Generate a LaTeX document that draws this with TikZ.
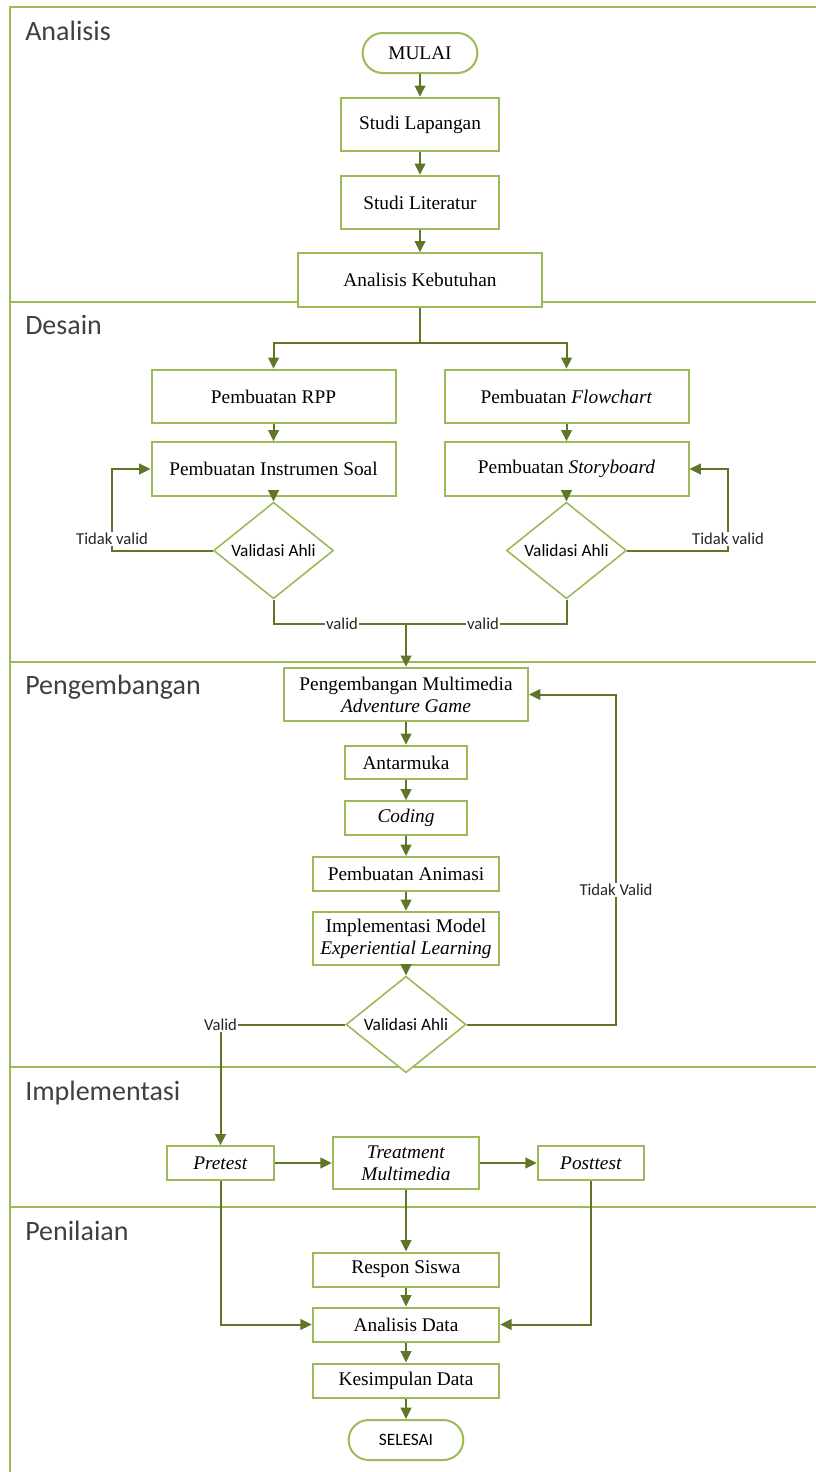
\documentclass[tikz,border=0pt]{standalone}
\usepackage{fontspec}
\setmainfont{Liberation Serif}
\newfontfamily\lanefont{Carlito}
\usetikzlibrary{
	positioning
	,shapes.geometric
	,arrows.meta
}
\definecolor{boxgreen}{RGB}{155,187,89}
\definecolor{flowgreen}{RGB}{95,117,40}
\definecolor{lanetext}{RGB}{64,64,64}
\newcommand{\flow}[3][]{
	\draw[flow line,#1] (#2) -- (#3);
}
\tikzset{
	box/.style={
		draw=boxgreen
		,line width=1.5pt
		,fill=white
		,rectangle
		,inner sep=1pt
		,align=center
		,font=\fontsize{14.5}{16.5}\selectfont
	},
	terminal/.style={
		box
		,rounded corners=15pt
		,minimum width=86pt
		,minimum height=30pt
	},
	check/.style={
		box
		,diamond
		,line width=1.2pt
		,minimum width=90pt
		,minimum height=54pt
		,inner sep=0pt
		,font=\lanefont\fontsize{13}{15}\selectfont
	},
	tag/.style={
		fill=white
		,inner sep=1pt
		,font=\lanefont\fontsize{12.5}{14}\selectfont
		,text=black!85
	},
	lane/.style={
		anchor=base west
		,inner sep=0pt
		,font=\lanefont\fontsize{21}{24}\selectfont
		,text=lanetext
	},
	flow line/.style={
		draw=flowgreen
		,line width=1.5pt
		,-{Triangle[length=8.5pt,width=8pt]}
	},
	plain line/.style={
		draw=flowgreen
		,line width=1.5pt
	},
	wide box/.style={minimum width=183pt, minimum height=40pt},
	mid box/.style={minimum width=118pt, minimum height=40pt},
	slim box/.style={minimum width=140pt, minimum height=25.5pt},
	short box/.style={minimum width=91.5pt, minimum height=25pt},
	test box/.style={minimum width=80pt, minimum height=25pt}
}

\begin{document}
\begin{tikzpicture}[x=0.75pt,y=-0.75pt]
	\useasboundingbox (0,0) rectangle (816,1472);
	
	\draw[boxgreen, line width=2pt] (816,7) -- (10,7) -- (10,1472);
	\foreach \y in {302,662,1067,1207}{
		\draw[boxgreen, line width=2pt] (10,\y) -- (816,\y);
	}
	\foreach \y/\t in {40/Analisis,334/Desain,694/Pengembangan,1100/Implementasi,1240/Penilaian}{
		\node[lane] (lane-\t) at (25,\y) {\t};
	}
	
	\node[terminal] (mulai) at (420,53) {MULAI};
	\node[box, mid box] (lapangan) at (420,124.5) {Studi Lapangan};
	\node[box, mid box] (literatur) at (420,202.5) {Studi Literatur};
	\node[box, wide box] (kebutuhan) at (420,280) {Analisis Kebutuhan};
	
	\node[box, wide box] (rpp) at (273.5,396.5) {Pembuatan RPP};
	\node[box, wide box] (flowchart) at (566.5,396.5) {Pembuatan \textit{Flowchart}};
	\node[box, wide box] (soal) at (273.5,469) {Pembuatan Instrumen Soal};
	\node[box, wide box] (storyboard) at (566.5,469) {Pembuatan \textit{Storyboard}};
	\node[check] (cek1) at (273.5,550.5) {Validasi Ahli};
	\node[check] (cek2) at (566.5,550.5) {Validasi Ahli};
	
	\node[box, wide box] (multimedia) at (406,694.5) {Pengembangan Multimedia\\\textit{Adventure Game}};
	\node[box, short box] (antarmuka) at (406,762.5) {Antarmuka};
	\node[box, short box] (coding) at (406,818) {\textit{Coding}};
	\node[box, slim box] (animasi) at (406,874) {Pembuatan Animasi};
	\node[box, slim box, minimum height=40pt] (model) at (406,938.5) {Implementasi Model\\\textit{Experiential Learning}};
	\node[check, minimum height=56pt] (cek3) at (406,1024.5) {Validasi Ahli};
	
	\node[box, test box] (pretest) at (220.5,1163) {\textit{Pretest}};
	\node[box, minimum width=110pt, minimum height=39pt] (treatment) at (406,1163) {\textit{Treatment}\\\textit{Multimedia}};
	\node[box, test box] (posttest) at (591,1163) {\textit{Posttest}};
	
	\node[box, slim box] (respon) at (406,1269.5) {Respon Siswa};
	\node[box, slim box] (analisis) at (406,1324.5) {Analisis Data};
	\node[box, slim box] (kesimpulan) at (406,1380.5) {Kesimpulan Data};
	\node[terminal, font=\lanefont\fontsize{13}{15}\selectfont] (selesai) at (406,1440) {SELESAI};
	
	\foreach \a/\b in {
		mulai/lapangan,lapangan/literatur,literatur/kebutuhan,%
		rpp/soal,flowchart/storyboard,soal/cek1,storyboard/cek2,%
		multimedia/antarmuka,antarmuka/coding,coding/animasi,animasi/model,model/cek3,%
		pretest/treatment,treatment/posttest,treatment/respon,%
		respon/analisis,analisis/kesimpulan,kesimpulan/selesai%
	}{
		\flow{\a}{\b};
	}
	
	\coordinate (fork) at (420,343);
	\draw[plain line] (kebutuhan.south) -- (fork);
	\draw[flow line] (fork) -| (rpp.north);
	\draw[flow line] (fork) -| (flowchart.north);
	
	\coordinate (back1) at (112,550.5);
	\coordinate (back2) at (728,550.5);
	\draw[flow line] (cek1.west) -- (back1) |- (soal.west);
	\draw[flow line] (cek2.east) -- (back2) |- (storyboard.east);
	\node[tag] (tidak1) at (112,539) {Tidak valid};
	\node[tag] (tidak2) at (728,539) {Tidak valid};
	
	\coordinate (join) at (406,624);
	\draw[plain line] (cek1.south) |- (join);
	\draw[plain line] (cek2.south) |- (join);
	\draw[flow line] (join) -- (multimedia.north);
	\node[tag] (valid1) at (342,624) {valid};
	\node[tag] (valid2) at (483,624) {valid};
	
	\coordinate (back3) at (616,1024.5);
	\draw[flow line] (cek3.east) -- (back3) |- (multimedia.east);
	\node[tag] (tidak3) at (616,890) {Tidak Valid};
	\coordinate (turn) at (220.5,1024.5);
	\draw[flow line] (cek3.west) -- (turn) -- (pretest.north);
	\node[tag] (valid3) at (turn) {Valid};
	
	\draw[flow line] (pretest.south) |- (analisis.west);
	\draw[flow line] (posttest.south) |- (analisis.east);
\end{tikzpicture}
\end{document}
